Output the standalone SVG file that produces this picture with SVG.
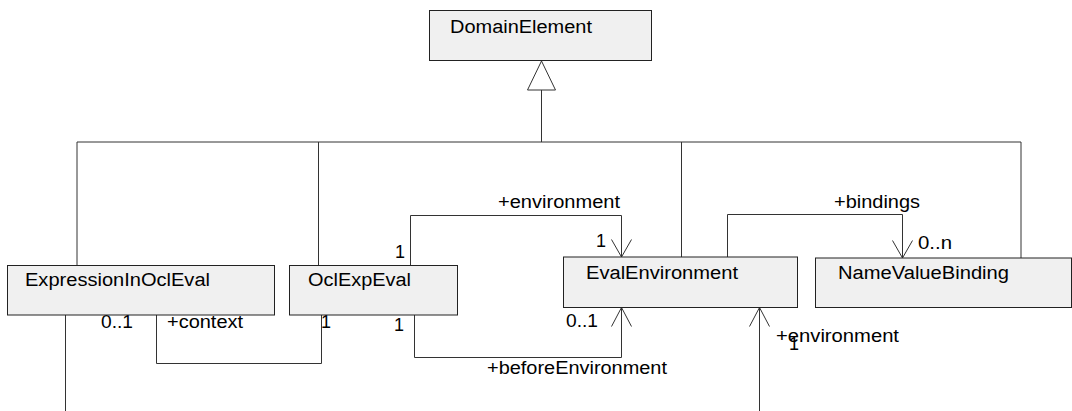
<svg xmlns="http://www.w3.org/2000/svg" width="1072" height="411" viewBox="0 0 1072 411">
<style>
.box{fill:#f0f0f0;stroke:#222;stroke-width:1}
.ln{fill:none;stroke:#333;stroke-width:1}
.t{font-family:"Liberation Sans",Arial,sans-serif;font-size:18px;fill:#000}
</style>
<rect width="1072" height="411" fill="#fff"/>
<g id="connectors">
<polygon points="541.5,61 527.5,90 555.5,90" fill="#fff" stroke="#333" stroke-width="1"/>
<path class="ln" d="M541.5,90V142M77,142H1021M77,142V266M318.5,142V266M681.5,142V257M1021,142V258"/>
<path class="ln" d="M410.5,266V215.5H621.5V257M611.5,239.5L621.5,257L631.5,239.5"/>
<path class="ln" d="M414.5,315V357.5H621.5V307.5M611.5,326.5L621.5,307.5L631.5,326.5"/>
<path class="ln" d="M156.5,315V363.5H321.5V315"/>
<path class="ln" d="M65.5,315V411"/>
<path class="ln" d="M727.5,257V214.5H902.5V258M892.5,240.5L902.5,258L912.5,240.5"/>
<path class="ln" d="M759.5,411V307.5M749.5,326.5L759.5,307.5L769.5,326.5"/>
<text class="t" x="498" y="208" textLength="122" lengthAdjust="spacingAndGlyphs">+environment</text>
<text class="t" x="395" y="258">1</text>
<text class="t" x="596" y="247">1</text>
<text class="t" x="834" y="208" textLength="86" lengthAdjust="spacingAndGlyphs">+bindings</text>
<text class="t" x="918" y="249" textLength="34" lengthAdjust="spacingAndGlyphs">0..n</text>
<text class="t" x="101" y="327.5" textLength="32" lengthAdjust="spacingAndGlyphs">0..1</text>
<text class="t" x="167" y="327.5" textLength="76" lengthAdjust="spacingAndGlyphs">+context</text>
<text class="t" x="321" y="327.5">1</text>
<text class="t" x="394" y="331">1</text>
<text class="t" x="566" y="327" textLength="32" lengthAdjust="spacingAndGlyphs">0..1</text>
<text class="t" x="487" y="374" textLength="180" lengthAdjust="spacingAndGlyphs">+beforeEnvironment</text>
<text class="t" x="776" y="341.5" textLength="123" lengthAdjust="spacingAndGlyphs">+environment</text>
<text class="t" x="789" y="350">1</text>
</g>
<g id="DomainElement">
<rect class="box" x="429.5" y="10.5" width="222" height="50"/>
<text class="t" x="450" y="33" textLength="142" lengthAdjust="spacingAndGlyphs">DomainElement</text>
</g>
<g id="ExpressionInOclEval">
<rect class="box" x="7.5" y="265.5" width="267" height="49.5"/>
<text class="t" x="25" y="285.5" textLength="185" lengthAdjust="spacingAndGlyphs">ExpressionInOclEval</text>
</g>
<g id="OclExpEval">
<rect class="box" x="289.5" y="265.5" width="168" height="49.5"/>
<text class="t" x="308" y="285.5" textLength="103" lengthAdjust="spacingAndGlyphs">OclExpEval</text>
</g>
<g id="EvalEnvironment">
<rect class="box" x="563.5" y="257" width="234" height="50.5"/>
<text class="t" x="586" y="279" textLength="152" lengthAdjust="spacingAndGlyphs">EvalEnvironment</text>
</g>
<g id="NameValueBinding">
<rect class="box" x="815.5" y="258" width="256" height="49.5"/>
<text class="t" x="838" y="279" textLength="171" lengthAdjust="spacingAndGlyphs">NameValueBinding</text>
</g>
</svg>
